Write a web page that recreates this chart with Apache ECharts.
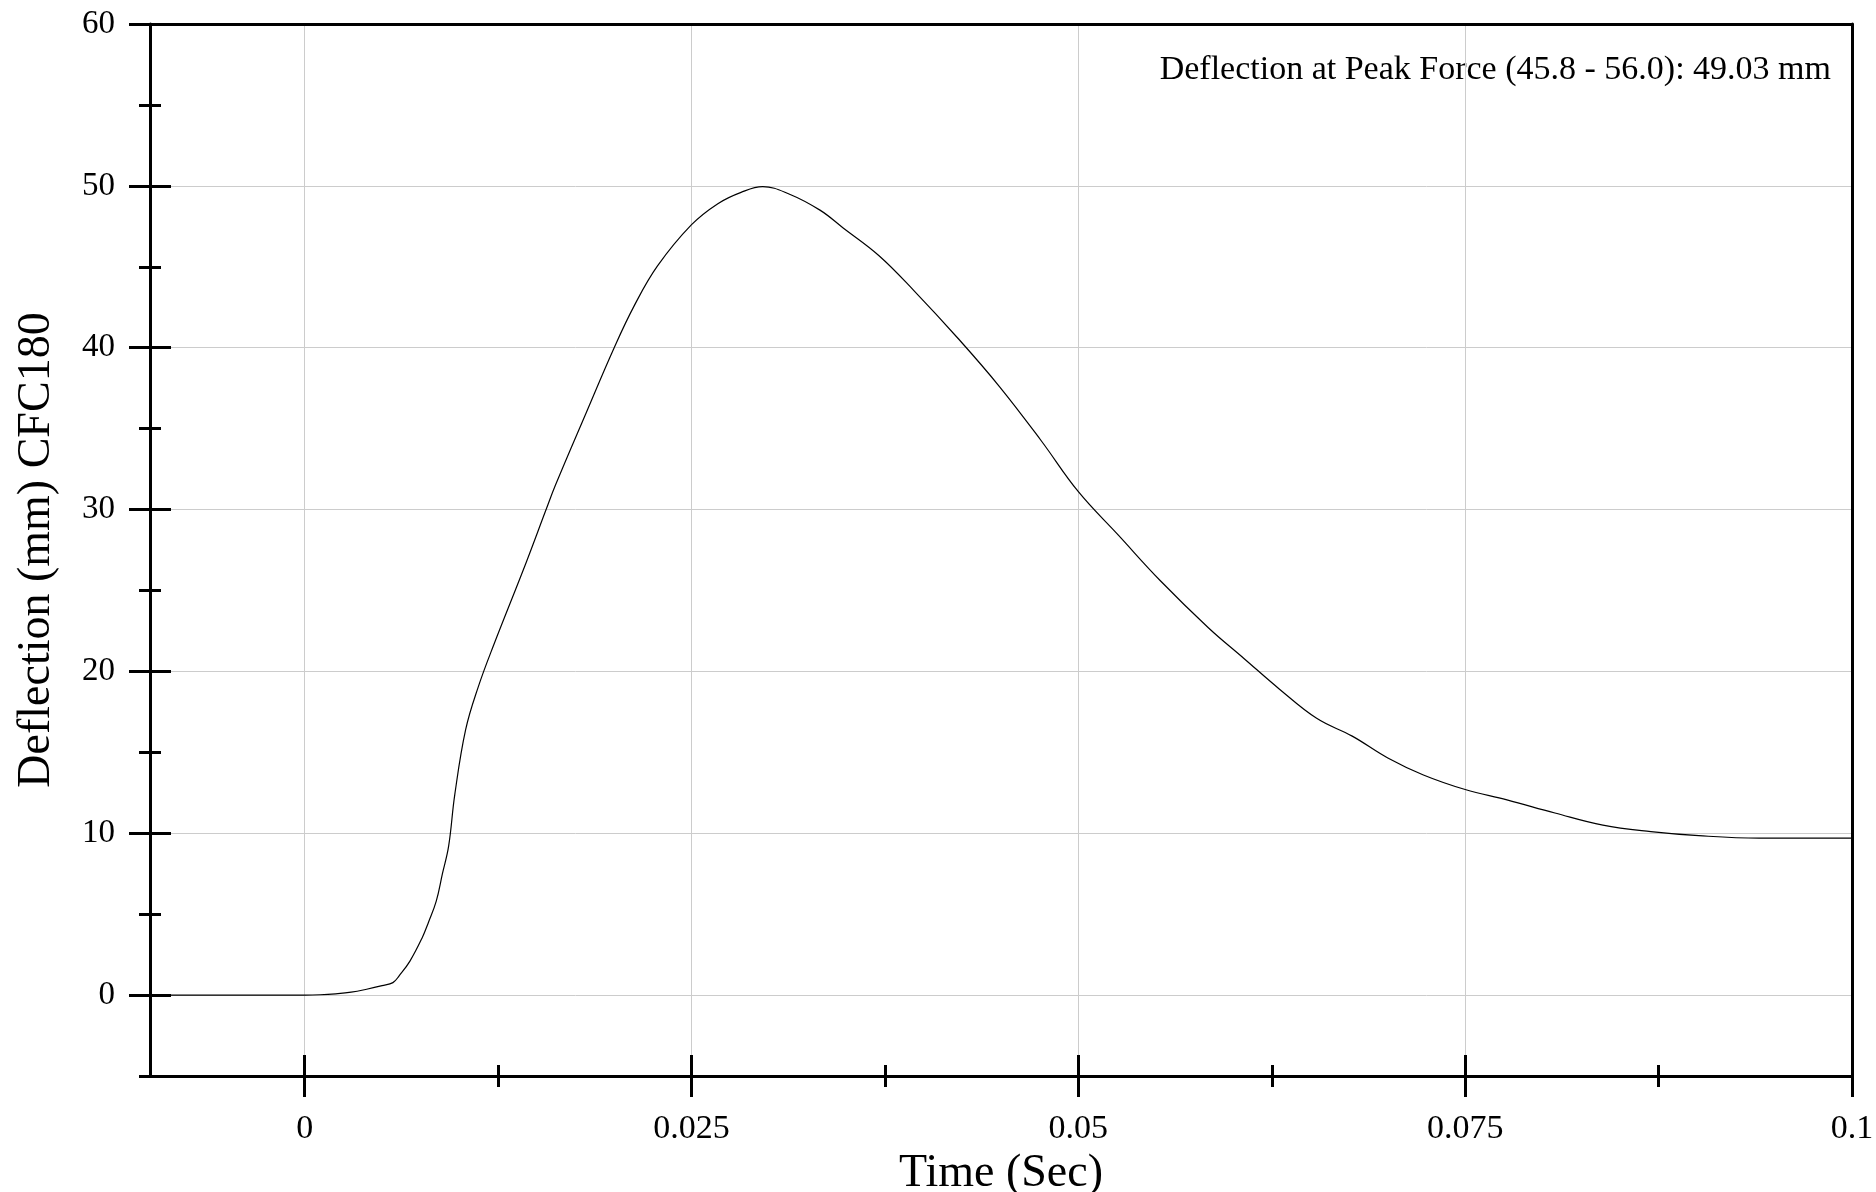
<!DOCTYPE html>
<html>
<head>
<meta charset="utf-8">
<script src="https://cdn.jsdelivr.net/npm/echarts@6/dist/echarts.min.js"></script>
<style>
html,body{margin:0;padding:0;background:#fff;}
#chart{width:1876px;height:1192px;}
</style>
</head>
<body>
<div id="chart"></div>
<script>
// ---- data ----
const timeSec = [-0.01, -0.005, 0, 0.001, 0.002, 0.003, 0.004, 0.005, 0.0057, 0.0061, 0.0068, 0.0076, 0.008, 0.0085, 0.0089, 0.0093, 0.0097, 0.0104, 0.0112, 0.0122, 0.0143, 0.0156, 0.0162, 0.0182, 0.0200, 0.0213, 0.0228, 0.0250, 0.0267, 0.0282, 0.0296, 0.0313, 0.0333, 0.0348, 0.0371, 0.0394, 0.0422, 0.0449, 0.0476, 0.0500, 0.0526, 0.0553, 0.0584, 0.0607, 0.0630, 0.0654, 0.0677, 0.0700, 0.0723, 0.0750, 0.0777, 0.0808, 0.0839, 0.0870, 0.0901, 0.0940, 0.1000];
const deflection = [0, 0, 0, 0.02, 0.08, 0.18, 0.36, 0.58, 0.77, 1.19, 2.1, 3.56, 4.5, 5.8, 7.5, 9.2, 12.4, 16.4, 19.0, 21.6, 26.7, 30.0, 31.5, 36.0, 40.0, 42.6, 45.05, 47.6, 48.9, 49.6, 49.95, 49.5, 48.5, 47.4, 45.7, 43.5, 40.6, 37.6, 34.25, 31.1, 28.4, 25.6, 22.7, 20.8, 18.9, 17.1, 16.0, 14.65, 13.6, 12.7, 12.06, 11.25, 10.5, 10.1, 9.85, 9.7, 9.7];
const xMajorTicks = [0, 0.025, 0.05, 0.075, 0.1];
const xMinorTicks = [0.0125, 0.0375, 0.0625, 0.0875];
const yMajorTicks = [0, 10, 20, 30, 40, 50, 60];
const yMinorTicks = [-5, 5, 15, 25, 35, 45, 55];
const annotationText = 'Deflection at Peak Force (45.8 - 56.0): 49.03 mm';
const xTitle = 'Time (Sec)';
const yTitle = 'Deflection (mm) CFC180';

const FONT = '"Liberation Serif", "Times New Roman", serif';
const X_MIN = -0.01, X_MAX = 0.1, Y_MIN = -5, Y_MAX = 60;

function tickAxis(kind, values, len, inside) {
  return {
    type: 'value', min: kind === 'x' ? X_MIN : Y_MIN, max: kind === 'x' ? X_MAX : Y_MAX,
    position: kind === 'x' ? 'bottom' : 'left',
    axisLine: { show: false, onZero: false },
    axisLabel: { show: false },
    splitLine: { show: false },
    axisTick: { show: true, inside: inside, length: len, customValues: values,
      lineStyle: { color: '#000', width: 3 } }
  };
}

const chart = echarts.init(document.getElementById('chart'), null, { renderer: 'canvas' });
const points = timeSec.map((t, i) => [t, deflection[i]]);

chart.setOption({
  animation: false,
  backgroundColor: '#fff',
  grid: { left: 150, right: 24, top: 24, bottom: 116, containLabel: false, outerBoundsMode: 'none' },
  graphic: [{
    type: 'text', right: 45, top: 53,
    style: { text: annotationText, fontFamily: 'Liberation Serif', fontSize: 34, fill: '#000' }
  }],
  xAxis: [
    {
      type: 'value', min: X_MIN, max: X_MAX, position: 'bottom',
      axisLine: { show: true, onZero: false, lineStyle: { color: '#000', width: 3 } },
      axisTick: { show: false, customValues: xMajorTicks },
      axisLabel: { show: true, customValues: xMajorTicks, margin: 36,
        formatter: v => String(v), color: '#000', fontFamily: FONT, fontSize: 34 },
      splitLine: { show: true, lineStyle: { color: '#cccccc', width: 1 } },
      name: xTitle, nameLocation: 'middle', nameGap: 67,
      nameTextStyle: { color: '#000', fontFamily: FONT, fontSize: 46 }
    },
    tickAxis('x', xMajorTicks, 21, true),
    tickAxis('x', xMajorTicks, 21, false),
    tickAxis('x', xMinorTicks, 11, false),
    tickAxis('x', xMinorTicks, 11, true),
    {
      type: 'value', min: X_MIN, max: X_MAX, position: 'top',
      axisLine: { show: true, onZero: false, lineStyle: { color: '#000', width: 3 } },
      axisTick: { show: false }, axisLabel: { show: false }, splitLine: { show: false }
    }
  ],
  yAxis: [
    {
      type: 'value', min: Y_MIN, max: Y_MAX, position: 'left',
      axisLine: { show: true, onZero: false, lineStyle: { color: '#000', width: 3 } },
      axisTick: { show: false, customValues: yMajorTicks },
      axisLabel: { show: true, customValues: yMajorTicks, margin: 35,
        color: '#000', fontFamily: FONT, fontSize: 33 },
      splitLine: { show: true, lineStyle: { color: '#cccccc', width: 1 } },
      name: yTitle, nameLocation: 'middle', nameGap: 90,
      nameTextStyle: { color: '#000', fontFamily: FONT, fontSize: 46 }
    },
    tickAxis('y', yMajorTicks, 21, true),
    tickAxis('y', yMajorTicks, 21, false),
    tickAxis('y', yMinorTicks, 11, false),
    tickAxis('y', yMinorTicks, 11, true),
    {
      type: 'value', min: Y_MIN, max: Y_MAX, position: 'right',
      axisLine: { show: true, onZero: false, lineStyle: { color: '#000', width: 3 } },
      axisTick: { show: false }, axisLabel: { show: false }, splitLine: { show: false }
    }
  ],
  series: [{
    type: 'line', xAxisIndex: 0, yAxisIndex: 0, data: points,
    showSymbol: false, smooth: 0.4,
    lineStyle: { color: '#000', width: 1.2 }
  }]
});
</script>
</body>
</html>
